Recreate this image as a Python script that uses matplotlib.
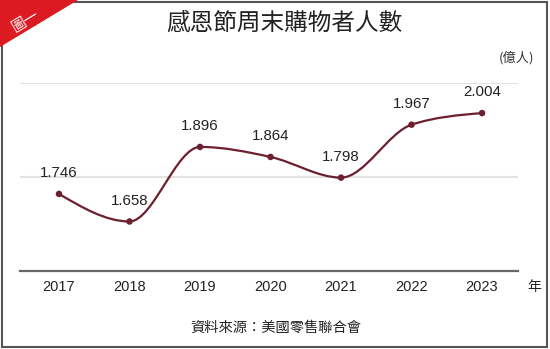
import matplotlib
matplotlib.use("Agg")
import matplotlib.pyplot as plt
from matplotlib.path import Path
from matplotlib.patches import PathPatch, Polygon, Rectangle
import numpy as np

years = ["2017", "2018", "2019", "2020", "2021", "2022", "2023"]
values = [1.746, 1.658, 1.896, 1.864, 1.798, 1.967, 2.004]
labels = ["1.746", "1.658", "1.896", "1.864", "1.798", "1.967", "2.004"]
yticks = [1.5, 1.8, 2.1]

title = "感恩節周末購物者人數"
unit = "(億人)"
xunit = "年"
source = "資料來源：美國零售聯合會"
badge = "圖一"

LINE = "#6e1f2f"
NUM_FONT = ["Liberation Sans", "DejaVu Sans"]
CJK_FONT = ["Noto Sans CJK TC", "DejaVu Sans"]

W, H = 550, 349
fig = plt.figure(figsize=(W / 100, H / 100), dpi=100)
fig.patch.set_facecolor("white")

def fx(px):
    return px / W

def fy(py):
    return 1 - py / H

ax = fig.add_axes([fx(20), fy(271), (518 - 20) / W, (271 - 83) / H])
ax.set_xlim(-0.553, 6.51)
ax.set_ylim(yticks[0], yticks[-1])
ax.axis("off")

# gridlines
for t in yticks[1:]:
    ax.axhline(t, color="#e2e2e2", lw=1.5, zorder=1)
ax.axhline(yticks[0], color="#666666", lw=1.6, zorder=2, clip_on=False)

# monotone cubic (d3 monotoneX) smooth path
x = np.arange(len(values), dtype=float)
y = np.array(values, dtype=float)
n = len(x)
h = np.diff(x)
s = np.diff(y) / h
t = np.zeros(n)
for i in range(1, n - 1):
    s0, s1 = s[i - 1], s[i]
    p = (s0 * h[i] + s1 * h[i - 1]) / (h[i - 1] + h[i])
    t[i] = (np.sign(s0) + np.sign(s1)) * min(abs(s0), abs(s1), 0.5 * abs(p))
t[0] = (3 * s[0] - t[1]) / 2
t[-1] = (3 * s[-1] - t[-2]) / 2
verts = [(x[0], y[0])]
codes = [Path.MOVETO]
for i in range(n - 1):
    dx = (x[i + 1] - x[i]) / 3
    verts += [(x[i] + dx, y[i] + dx * t[i]),
              (x[i + 1] - dx, y[i + 1] - dx * t[i + 1]),
              (x[i + 1], y[i + 1])]
    codes += [Path.CURVE4] * 3
ax.add_patch(PathPatch(Path(verts, codes), fill=False, edgecolor=LINE, lw=1.6, zorder=3))
ax.scatter(x, y, s=22, color=LINE, zorder=4, edgecolors="none")

for xi, yi, lab in zip(x, y, labels):
    ax.annotate(lab, (xi, yi), xytext=(0, 15), textcoords="offset points",
                ha="center", va="center", fontsize=10.8, family=NUM_FONT, color="#222222")

for xi, yr in zip(x, years):
    ax.annotate(yr, (xi, yticks[0]), xytext=(0, -11.5), textcoords="offset points",
                ha="center", va="center", fontsize=10.5, family=NUM_FONT, color="#222222",
                annotation_clip=False)

fig.text(fx(534), fy(287), xunit, ha="center", va="center", fontsize=10,
         family=CJK_FONT, color="#222222")
fig.text(fx(284), fy(23), title, ha="center", va="center", fontsize=17,
         family=CJK_FONT, color="#222222", fontweight="medium")
fig.text(fx(516), fy(58), unit, ha="center", va="center", fontsize=9.5,
         family=CJK_FONT, color="#333333")
fig.text(fx(276), fy(328), source, ha="center", va="center", fontsize=10.3,
         family=CJK_FONT, color="#222222", fontweight="medium")

# border
fig.patches.append(Rectangle((fx(2), fy(347)), (547 - 2) / W, (347 - 2) / H,
                             transform=fig.transFigure, fill=False,
                             edgecolor="#555555", lw=1.5, zorder=5))
# red corner badge
fig.patches.append(Polygon([(0, 1), (fx(78), 1), (0, fy(47))], closed=True,
                           transform=fig.transFigure, facecolor="#dc1a22",
                           edgecolor="none", zorder=6))
fig.text(fx(26), fy(21), badge, ha="center", va="center", fontsize=10.5,
         family=CJK_FONT, color="white", rotation=31, zorder=7)

fig.savefig("out.png", dpi=100, facecolor="white")
